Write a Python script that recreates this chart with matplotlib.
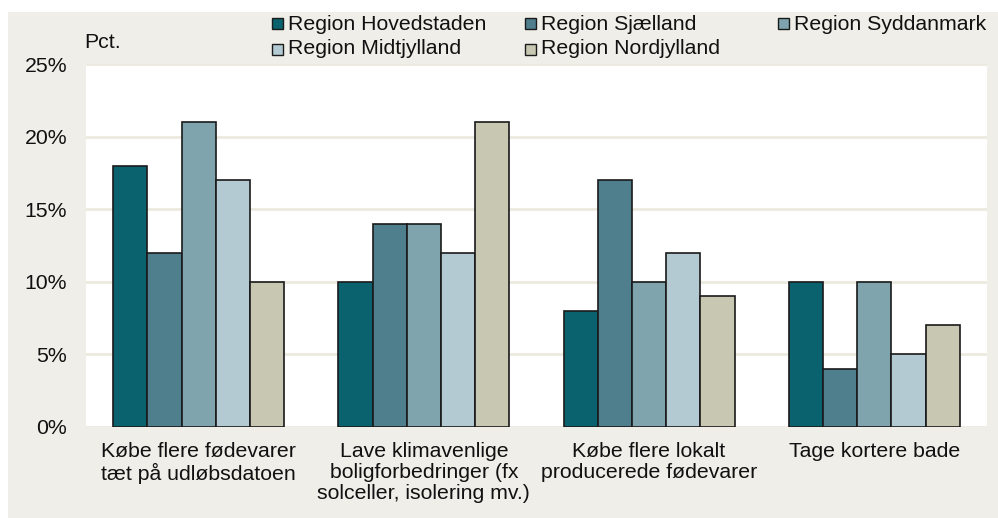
import matplotlib
matplotlib.use("Agg")
import matplotlib.pyplot as plt
from matplotlib.patches import Rectangle
import numpy as np

plt.rcParams['font.family'] = ['Liberation Sans', 'DejaVu Sans']

categories = ["Købe flere fødevarer\ntæt på udløbsdatoen",
              "Lave klimavenlige\nboligforbedringer (fx\nsolceller, isolering mv.)",
              "Købe flere lokalt\nproducerede fødevarer",
              "Tage kortere bade"]
regions = ["Region Hovedstaden", "Region Sjælland", "Region Syddanmark",
           "Region Midtjylland", "Region Nordjylland"]
hovedstaden = [18, 10, 8, 10]
sjaelland = [12, 14, 17, 4]
syddanmark = [21, 14, 10, 10]
midtjylland = [17, 12, 12, 5]
nordjylland = [10, 21, 9, 7]
series = [hovedstaden, sjaelland, syddanmark, midtjylland, nordjylland]
colors = ["#0A626E", "#4F7F8C", "#7FA4AD", "#B3CAD3", "#C8C7B1"]
yticks = [0, 5, 10, 15, 20, 25]
ytick_labels = ["0%", "5%", "10%", "15%", "20%", "25%"]

W, H = 998, 518
fig = plt.figure(figsize=(W / 100, H / 100), dpi=100, facecolor="white")
bg = "#EFEEE8"
fig.patches.append(Rectangle((8 / W, 0), 1 - 8 / W, 1 - 12 / H, transform=fig.transFigure,
                             facecolor=bg, edgecolor="none", zorder=-10))

ax = fig.add_axes([86 / W, 1 - 427 / H, (987 - 86) / W, (427 - 64) / H])
ax.set_zorder(1)
ax.set_facecolor("white")

x = np.arange(len(categories))
bw = 0.152
for i, (vals, c) in enumerate(zip(series, colors)):
    ax.bar(x + (i - 2) * bw, vals, width=bw, color=c, edgecolor="#1a1a1a",
           linewidth=1.2, zorder=3)

ax.set_xlim(-0.5, 3.5)
ax.set_ylim(0, 25)
ax.set_yticks(yticks)
ax.set_yticklabels(ytick_labels, fontsize=15.3, color="#111111")
ax.set_xticks(x)
ax.set_xticklabels(categories, fontsize=15.3, color="#111111", linespacing=1.12)
ax.tick_params(axis="both", length=0)
ax.tick_params(axis="y", pad=13.5)
ax.tick_params(axis="x", pad=11)
ax.yaxis.grid(True, color="#ECE9DF", linewidth=2, zorder=0)
ax.set_axisbelow(True)
for s in ax.spines.values():
    s.set_visible(False)

fig.text(84 / W, 1 - 42 / H, "Pct.", fontsize=15.3, va="center", ha="left", color="#111111")

# legend (manual, equal-width columns)
for i, (name, c) in enumerate(zip(regions, colors)):
    col, row = i % 3, i // 3
    lx = 272 + col * 253
    ly = 24 + row * 25
    fig.patches.append(Rectangle((lx / W, 1 - (ly + 5.5) / H), 11 / W, 11 / H,
                                 transform=fig.transFigure, facecolor=c,
                                 edgecolor="#1a1a1a", linewidth=1.0, zorder=3))
    fig.text((lx + 16) / W, 1 - ly / H, name, fontsize=15.3, va="center", ha="left",
             color="#111111")

fig.savefig("out.png", dpi=100, facecolor="white")
